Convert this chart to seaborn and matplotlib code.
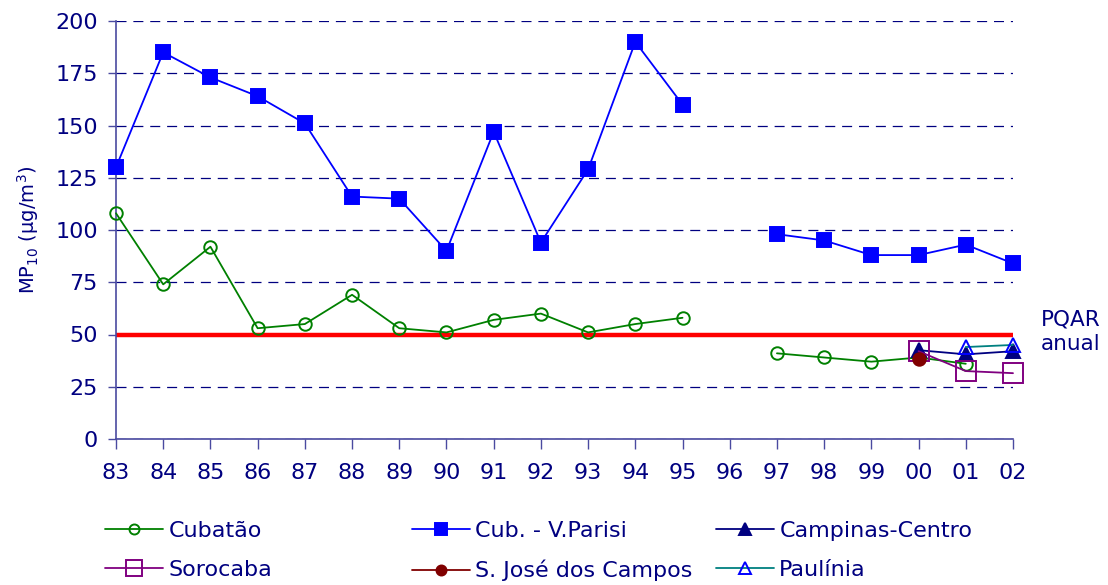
import numpy as np
import pandas as pd
import matplotlib
matplotlib.use("Agg")
import matplotlib.pyplot as plt
import seaborn as sns

# Anos (83 a 02) e séries de MP10 (médias anuais, ug/m3)
anos = ['83', '84', '85', '86', '87', '88', '89', '90', '91', '92',
        '93', '94', '95', '96', '97', '98', '99', '00', '01', '02']
nan = np.nan
cubatao = [108, 74, 92, 53, 55, 69, 53, 51, 57, 60,
           51, 55, 58, nan, 41, 39, 37, 39, 36, nan]
vparisi = [130, 185, 173, 164, 151, 116, 115, 90, 147, 94,
           129, 190, 160, nan, 98, 95, 88, 88, 93, 84]
campinas = [nan] * 17 + [42.5, 40.5, 42]
sorocaba = [nan] * 17 + [42, 32.5, 31.5]
sjcampos = [nan] * 17 + [38.5, nan, nan]
paulinia = [nan] * 17 + [nan, 44, 45]
pqar_anual = 50

navy = '#000080'

series = {
    'Cubatão': (cubatao, dict(color='#008000', marker='o', markersize=9,
                               markerfacecolor='none', markeredgecolor='#008000')),
    'Cub. - V.Parisi': (vparisi, dict(color='#0000FF', marker='s', markersize=10,
                                      markerfacecolor='#0000FF', markeredgecolor='#0000FF')),
    'Campinas-Centro': (campinas, dict(color=navy, marker='^', markersize=10,
                                       markerfacecolor=navy, markeredgecolor=navy)),
    'Sorocaba': (sorocaba, dict(color='#800080', marker='s', markersize=14,
                                markerfacecolor='none', markeredgecolor='#800080')),
    'S. José dos Campos': (sjcampos, dict(color='#800000', marker='o', markersize=9,
                                          markerfacecolor='#800000', markeredgecolor='#800000')),
    'Paulínia': (paulinia, dict(color='#008080', marker='^', markersize=10,
                                markerfacecolor='none', markeredgecolor='#0000FF')),
}

sns.set_style('white')
plt.rcParams['font.family'] = ['DejaVu Sans']

fig = plt.figure(figsize=(11.08, 5.85), dpi=100)
ax = fig.add_axes([116 / 1108, 1 - 439 / 585, (1013 - 116) / 1108, (439 - 21) / 585])

# linha do padrão anual
ax.axhline(pqar_anual, color='#FF0000', lw=3.2, zorder=2)

for nome, (valores, estilo) in series.items():
    df = pd.DataFrame({'pos': np.arange(len(anos)), 'valor': valores})
    df['trecho'] = df['valor'].isna().cumsum()
    df = df.dropna()
    sns.lineplot(data=df, x='pos', y='valor', units='trecho', estimator=None,
                 ax=ax, label=nome, lw=1.3, markeredgewidth=1.4,
                 clip_on=False, zorder=3, legend=False, **estilo)

ax.set_xlim(0, len(anos) - 1)
ax.set_ylim(0, 200)
ax.set_xticks(np.arange(len(anos)))
ax.set_xticklabels(anos)
ax.set_yticks(range(0, 201, 25))
ax.set_xlabel('')
ax.set_ylabel('MP$_{10}$ (µg/m$^3$)', fontsize=14, color=navy, labelpad=10)

ax.yaxis.grid(True, linestyle=(0, (8, 5.5)), color=navy, lw=0.9)
ax.xaxis.grid(False)
for s in ['top', 'right']:
    ax.spines[s].set_visible(False)
for s in ['left', 'bottom']:
    ax.spines[s].set_color('#4a4aa0')
    ax.spines[s].set_linewidth(1.2)
ax.tick_params(axis='y', direction='out', length=6, width=1, color='#4a4aa0',
               labelcolor=navy, labelsize=16, pad=7, left=True)
ax.tick_params(axis='x', direction='out', length=7, width=1, color='#4a4aa0',
               labelcolor=navy, labelsize=16, pad=10, bottom=True)

fig.text(1071 / 1108, 1 - 332 / 585, 'PQAR\nanual', ha='center', va='center',
         fontsize=15.5, color=navy, linespacing=1.25)

# legenda em três colunas
handles, labels = ax.get_legend_handles_labels()
uniq = dict(zip(labels, handles))
colunas = [['Cubatão', 'Sorocaba'],
           ['Cub. - V.Parisi', 'S. José dos Campos'],
           ['Campinas-Centro', 'Paulínia']]
x_col = [105, 412, 716]
for nomes, x0 in zip(colunas, x_col):
    leg = fig.legend([uniq[n] for n in nomes], nomes, loc='upper left',
                     bbox_to_anchor=(x0 / 1108, 1 - 521 / 585), frameon=False,
                     fontsize=16, handlelength=2.6, handletextpad=0.25,
                     borderpad=0, borderaxespad=0, labelspacing=0.85,
                     numpoints=1, markerscale=0.8, labelcolor=navy)

fig.savefig('out.png', dpi=100)
